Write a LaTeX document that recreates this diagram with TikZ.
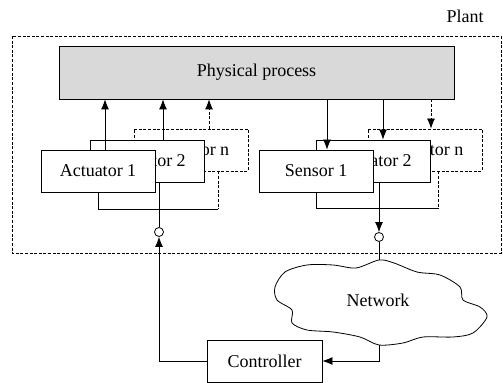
\documentclass[tikz,border=0pt]{standalone}
\usepackage{fontspec}
\setmainfont{Liberation Serif}
\usetikzlibrary{arrows.meta}
\tikzset{
  blk/.style={draw,fill=white,minimum width=57pt,minimum height=21pt,inner sep=0pt},
  dsh/.style={dash pattern=on 1.5pt off 0.8pt},
  arr/.style={-{Latex[length=5pt,width=4pt]}},
  jn/.style={circle,draw,fill=white,inner sep=0pt,minimum size=4.5pt},
}
\begin{document}
\begin{tikzpicture}[x=0.5pt,y=-0.5pt,font=\fontsize{9}{11}\selectfont]
  \useasboundingbox (0,0) rectangle (503,383);
  \draw[dsh] (12,36) rectangle (501,253);
  \node (plant) at (465,16) {Plant};
  \node[draw,fill=black!15,minimum width=197.5pt,minimum height=26.5pt,inner sep=0pt]
        (proc) at (256.5,72.5) {Physical process};
  \begin{scope}
    \node[blk,dsh] (an) at (191,150) {Actuator n};
    \node[blk] (a2) at (147.5,161) {Actuator 2};
    \node[blk] (a1) at (98,171) {Actuator 1};
    \draw[arr] ([xshift=3.5pt]a1.north) -- ([xshift=3.5pt]a1.north |- proc.south);
    \draw[arr] ([xshift=7.75pt]a2.north) -- ([xshift=7.75pt]a2.north |- proc.south);
    \draw[arr,dsh] ([xshift=9pt]an.north) -- ([xshift=9pt]an.north |- proc.south);
    \draw (a1.south) |- (218,209);
    \draw[dsh] ([xshift=13.5pt]an.south) -- ++(0,38);
    \node[jn] (c1) at (159,232) {};
    \draw ([xshift=5.75pt]a2.south) -- (c1.north);
  \end{scope}
  \begin{scope}
    \node[blk,dsh] (sn) at (425,150) {Actuator n};
    \node[blk] (s2) at (373.5,161) {Actuator 2};
    \node[blk] (s1) at (316,171) {Sensor 1};
    \draw[arr] ([xshift=5.5pt]s1.north |- proc.south) -- ([xshift=5.5pt]s1.north);
    \draw[arr] ([xshift=4.75pt]s2.north |- proc.south) -- ([xshift=4.75pt]s2.north);
    \draw[arr,dsh] ([xshift=3pt]sn.north |- proc.south) -- ([xshift=3pt]sn.north);
    \draw (s1.south) |- (438,208);
    \draw[dsh] ([xshift=6.5pt]sn.south) -- ++(0,37);
    \node[jn] (c2) at (379,237) {};
    \draw[arr] ([xshift=2.75pt]s2.south) -- (c2.north);
  \end{scope}
  \draw plot[smooth cycle] coordinates {
    (379,260) (356,268) (333,265) (307,265) (285,272) (275,287) (277,300)
    (292,310) (292,323) (307,330) (333,332) (360,337) (379,345) (403,343)
    (423,337) (453,337) (473,333) (487,317) (480,307) (463,300) (460,287)
    (440,275) (417,272) (394,263)};
  \node (net) at (378,300) {Network};
  \coordinate (cloudtop) at (379,260);
  \coordinate (cloudbot) at (379,345);
  \node[draw,minimum width=57.5pt,minimum height=21pt,inner sep=0pt] (ctrl) at (264.5,361) {Controller};
  \draw (c2.south) -- (cloudtop);
  \draw[arr] (cloudbot) |- (ctrl.east);
  \draw[arr] (ctrl.west) -| (c1.south);
\end{tikzpicture}
\end{document}
